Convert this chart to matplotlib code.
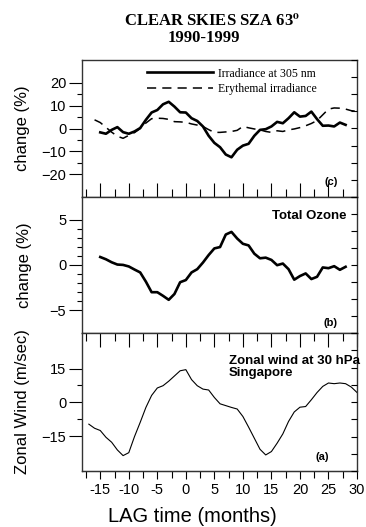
import matplotlib
matplotlib.use("Agg")
import matplotlib.pyplot as plt
from matplotlib.ticker import MultipleLocator, FixedLocator

plt.rcParams['font.family'] = ['Liberation Sans', 'DejaVu Sans']
plt.rcParams['mathtext.fontset'] = 'stix'

# ---------------- data ----------------
months_irr = list(range(-15, 29))
irr305 = [-1.7, -2.3, -0.6, 0.6, -1.6, -2.3, -1.3, 0.2, 3.8, 7.0, 8.1, 10.6, 11.7, 9.6, 7.1,
          7.0, 4.5, 3.3, 0.9, -3.2, -6.3, -8.2, -11.4, -12.6, -9.3, -7.5, -6.7, -3.2, -0.6,
          -0.3, 0.9, 2.9, 2.3, 4.5, 7.1, 5.2, 5.5, 7.4, 4.1, 1.2, 1.3, 0.9, 2.6, 1.6]

months_ery = list(range(-16, 31))
erythemal = [3.8, 2.6, 0.5, -1.6, -3.4, -4.3, -3.0, -1.8, 0.0, 2.4, 4.3, 4.5, 4.4, 4.0, 3.0,
             2.9, 2.7, 2.0, 1.5, 0.9, -0.5, -1.7, -1.7, -1.5, -1.3, -0.8, 0.9, 0.3, -0.2, -0.6,
             -1.3, -1.7, -1.0, -1.3, -0.6, -0.2, 0.4, 1.2, 2.2, 3.5, 6.0, 8.5, 9.0, 8.9, 8.5,
             7.8, 7.5]

months_oz = list(range(-15, 29))
ozone = [0.88, 0.63, 0.3, 0.05, 0.01, -0.16, -0.5, -0.82, -1.84, -3.0, -3.0, -3.4, -3.84,
         -3.2, -1.9, -1.66, -0.82, -0.46, 0.27, 1.1, 1.83, 1.98, 3.36, 3.65, 2.92, 2.34, 2.16,
         1.25, 0.74, 0.81, 0.56, -0.02, 0.16, -0.46, -1.62, -1.22, -0.93, -1.55, -1.3, -0.27,
         -0.35, -0.13, -0.53, -0.2]

months_wind = list(range(-17, 31))
wind = [-9.6, -11.4, -12.4, -15.4, -17.6, -21.0, -23.5, -22.2, -15.1, -8.8, -2.2, 3.1, 6.4,
        7.4, 9.4, 11.7, 14.0, 14.5, 10.1, 7.4, 5.9, 5.5, 2.2, -0.6, -1.4, -2.2, -2.9, -6.2,
        -10.9, -15.8, -20.7, -23.2, -21.7, -18.0, -13.9, -8.4, -4.2, -2.1, -1.8, 1.2, 4.4,
        7.1, 8.6, 8.3, 8.6, 8.3, 6.8, 4.4]

x_major = [-15, -10, -5, 0, 5, 10, 15, 20, 25, 30]
x_labels = ['-15', '-10', '-5', '0', '5', '10', '15', '20', '25', '30']

# ---------------- figure ----------------
W, H = 366, 527
fig = plt.figure(figsize=(W / 100, H / 100), dpi=100)

def ax_rect(top_px, bot_px, left_px=82, right_px=357):
    return [left_px / W, 1 - bot_px / H, (right_px - left_px) / W, (bot_px - top_px) / H]

axc = fig.add_axes(ax_rect(60, 197))
axb = fig.add_axes(ax_rect(197, 333))
axa = fig.add_axes(ax_rect(333, 471))

XLIM = (-18.2, 30)
spine_col = '#333333'
TL = 10.5  # tick label size
PT = 0.72  # px -> pt

for ax in (axc, axb, axa):
    ax.set_xlim(*XLIM)
    for s in ax.spines.values():
        s.set_color(spine_col)
        s.set_linewidth(1.0)
    ax.tick_params(axis='y', which='both', direction='out', labelsize=TL, colors='black',
                   width=0.8, pad=2)
    ax.tick_params(axis='y', which='major', length=13 * PT)
    ax.tick_params(axis='y', which='minor', length=5 * PT)
    ax.xaxis.set_major_locator(FixedLocator(x_major))
    ax.xaxis.set_minor_locator(MultipleLocator(2.5))
    # right-side ticks: 8 equal divisions
    tw = ax.twinx()
    tw.set_ylim(0, 8)
    tw.yaxis.set_major_locator(MultipleLocator(1))
    tw.tick_params(axis='y', direction='in', length=6 * PT, width=0.8, labelright=False)
    for s in tw.spines.values():
        s.set_visible(False)

# ---- panel (c)
axc.plot(months_irr, irr305, color='black', lw=1.9, label='Irradiance at 305 nm')
axc.plot(months_ery, erythemal, color='black', lw=1.1, ls=(0, (6, 4)),
         label='Erythemal irradiance')
axc.set_ylim(-30, 30)
axc.yaxis.set_major_locator(FixedLocator([-20, -10, 0, 10, 20]))
axc.yaxis.set_minor_locator(FixedLocator([-15, -5, 5, 15]))
axc.tick_params(axis='x', which='both', direction='in', labelbottom=False, width=0.8)
axc.tick_params(axis='x', which='major', length=14 * PT)
axc.tick_params(axis='x', which='minor', length=8 * PT)
axc.set_ylabel('change (%)', fontsize=12, labelpad=8)
leg = axc.legend(loc='upper left', bbox_to_anchor=(0.235, 0.945), frameon=False,
                 prop={'family': 'Liberation Serif', 'size': 8.5}, handlelength=5.6,
                 handletextpad=0.45, labelspacing=0.3, borderpad=0, borderaxespad=0)
axc.text(0.905, 0.11, '(c)', transform=axc.transAxes, fontsize=8, fontweight='bold',
         ha='center', va='center')

# ---- panel (b)
axb.plot(months_oz, ozone, color='black', lw=1.9)
axb.set_ylim(-7.5, 7.5)
axb.yaxis.set_major_locator(FixedLocator([-5, 0, 5]))
axb.yaxis.set_minor_locator(FixedLocator([-4, -3, -2, -1, 1, 2, 3, 4]))
axb.tick_params(axis='x', which='both', bottom=False, labelbottom=False)
axb.set_ylabel('change (%)', fontsize=12, labelpad=13)
axb.text(0.96, 0.86, 'Total Ozone', transform=axb.transAxes, fontsize=9.5,
         fontweight='bold', ha='right', va='center')
axb.text(0.905, 0.07, '(b)', transform=axb.transAxes, fontsize=8, fontweight='bold',
         ha='center', va='center')

# ---- panel (a)
axa.plot(months_wind, wind, color='black', lw=0.8)
axa.set_ylim(-30.3, 30.7)
axa.yaxis.set_major_locator(FixedLocator([-15, 0, 15]))
axa.yaxis.set_minor_locator(FixedLocator([-7.5, 7.5]))
axa.tick_params(axis='x', which='both', top=True, direction='in', width=0.8)
axa.tick_params(axis='x', which='major', length=14 * PT)
axa.tick_params(axis='x', which='minor', length=8 * PT)
axa.tick_params(axis='x', which='both', bottom=False, labelbottom=False)
sec = axa.secondary_xaxis('bottom')
sec.set_xticks(x_major, x_labels)
sec.xaxis.set_minor_locator(MultipleLocator(2.5))
sec.tick_params(axis='x', which='both', direction='out', width=0.8, labelsize=TL, pad=3)
sec.tick_params(axis='x', which='major', length=8 * PT)
sec.tick_params(axis='x', which='minor', length=7 * PT)
sec.spines['bottom'].set_color(spine_col)
axa.set_ylabel('Zonal Wind (m/sec)', fontsize=12, labelpad=8)
axa.text(0.535, 0.755, 'Zonal wind at 30 hPa\nSingapore', transform=axa.transAxes,
         fontsize=9.5, fontweight='bold', ha='left', va='center', linespacing=1.0,
         clip_on=False)
axa.text(0.875, 0.1, '(a)', transform=axa.transAxes, fontsize=8, fontweight='bold',
         ha='center', va='center')

# x label (centred as in reference)
fig.text(192 / W, 1 - 517 / H, 'LAG time (months)', fontsize=14.5, ha='center',
         va='center')

# ---- title
fig.text(212 / W, 1 - 21 / H, r'CLEAR SKIES SZA 63$^{\mathbf{o}}$',
         family='Liberation Serif', fontweight='bold', fontsize=12, ha='center', va='center')
fig.text(204 / W, 1 - 38 / H, '1990-1999', family='Liberation Serif', fontweight='bold',
         fontsize=12, ha='center', va='center')

fig.savefig('out.png', dpi=100)
